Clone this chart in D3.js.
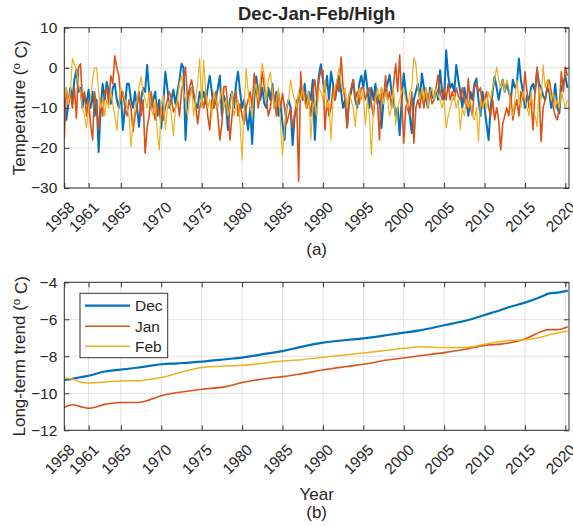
<!DOCTYPE html>
<html>
<head>
<meta charset="utf-8">
<script src="https://cdn.jsdelivr.net/npm/d3@7"></script>
<style>
  body { margin: 0; background: #fff; }
  svg text { font-family: "Liberation Sans", Arial, Helvetica, sans-serif; fill: #262626; }
</style>
</head>
<body>
<svg id="chart" width="573" height="526"></svg>
<script>
// ---- data ----
const yearTicks = [1958, 1961, 1965, 1970, 1975, 1980, 1985, 1990, 1995, 2000, 2005, 2010, 2015, 2020];
const tempTicks = [10, 0, -10, -20, -30];
const trendTicks = [-4, -6, -8, -10, -12];
const seriesNames = ["Dec", "Jan", "Feb"];
const seriesColors = ["#0072BD", "#D95319", "#EDB120"];

// high temperatures, four samples per year starting at 1958.0
const startYear = 1958;
const stepYear = 0.25;

const decHigh = [
  -8, -13, -9, -5,
  -8, -3, -0.5, -6,
  -5, -10, -7, -9,
  -5.5, -10, -6, -12,
  -8, -21, -10, -4,
  -8, -3.5, -6, -9,
  -5, -4, -8, -10,
  -6, -15.5, -10, -4,
  -4, -8, -10, -6,
  -10, -14.7, -8, -5,
  -6, 0.7, -6, -10,
  -8, -6, -12, -8,
  -15, -9, -1, -5,
  -10, -8, -5.5, -9,
  -6, -3, 1, 0,
  -18, -8, -6, -5,
  -7, -9, -10, -6,
  -8, -6, -9, -5,
  -2, -6, -10, -8,
  -5, -2, -12, -7,
  -9, -15.5, -8, -6,
  -10, -4, -1, -6,
  -10, -8, -12, -15.5,
  -10, -19, -8, -2.2,
  -6, -8, -5, -9,
  -10, -5, -8, -4,
  -10, -6, -12, -9,
  -14, -18, -10, -8,
  -10, -19.3, -12, -10,
  -7, -5, -8, -4,
  -10, -6, -8, -3,
  -18, -8, -2, 0.9,
  -3, -6, -2, -8,
  -1, -4, -8, -5,
  -2, -6, -10, -8,
  -14.7, -8, -6, -3,
  -8, -10, -4, -2,
  -5, -0.7, -5, -10,
  -5, -8, -4, -9,
  -6.8, -15, -8, -6,
  -4, -1.8, -6, -8,
  -12, -10, -16.8, -8,
  -1.4, -6, -10, -12,
  -16.3, -8, -6, -4,
  -8, -1.4, -5, -8,
  -10, -5, -7, -8,
  -5, -8, -0.6, -6,
  -8, 4.4, -2, -5,
  -4, -6, 0.7, -3,
  -6, -10, -5, -8,
  -12, -6, -8, -4,
  -2.7, -8, -12, -6,
  -10, -14, -18, -10,
  -6, -2.2, -5, -8,
  -5, -3, -6, -4,
  -6, -8, -3, -5,
  -4, 2.3, -3, -6,
  -10, -7, -8, -5,
  -4, -6, -0.6, -4,
  -5, -7, -8, -5,
  -6, -10, -8, -4,
  -10, -11.4, -5, -4,
  -2, -5
];

const janHigh = [
  -17.6, -5, -9, -6,
  -10, -5, -12.6, 0,
  1, -8, -6, -12,
  -8, -14, -18, -6,
  -10, -15.5, -8, -12,
  -6, -5, -9, -2,
  -4, 3, 0, -2,
  -8, -6, -10, -12,
  -8, -10, -16, -12,
  -10, -6, -12, -8,
  -21.3, -15, -12, -6,
  -10, -13, -9, -12,
  -10, -13, -10, -8,
  -6, -7.6, -11, -10,
  -8, -12, -6, -3,
  0.2, -8, -5, -3,
  -6, -9, -14, -10,
  -8, -10, -6, -12,
  -15.5, -8, -10, -6,
  -12, -18, -14, -4.7,
  -4.7, -10, -18, -12,
  -8, -6, -12, -9,
  -12, -14, -10, -8,
  -6, -10, -1.4, -5,
  -10, -6, -1, -5,
  -8, -12, -10, -5,
  -8, -12, -6, -10,
  -6.4, -10, -14, -12,
  -10, -15, -12, -8,
  -28.4, -1, -8, -6,
  -10, -8, -12, -6,
  -3, -8, -3, -0.6,
  -0.6, -15.5, -8, -12,
  -10, -5, -8, -3,
  -6, 2.7, -5, -8,
  -15, -7, -5, -3,
  -8, -6, -9, -5,
  -5, -8, -6, -5,
  -9, -12, -6, -8,
  -18, -5, -8, -2,
  -8, -6, -10, -4,
  1, -6, 3.2, -8,
  -18.8, -10, -8, -12,
  -6, -18.8, -10, -8,
  -10, -6, -10, -5,
  -8, -6, -9, -8,
  -5, -1.8, -6, -8,
  -5, -8, -3.9, -8,
  -6, -8, -5, -7,
  -8, -5, -8, -10,
  -2.7, -10, -12, -5,
  -3.9, -6, -5, -10,
  -8, -6, -10, -12,
  -8, -13, -10, -13,
  -20.5, -14, -12, -10,
  -12, -6.8, -13, -10,
  -8, -12, -6, -8,
  -1, -6, -10, -8,
  -15.5, -6, 0.2, -6,
  -18.4, -10, -8, -5,
  -3, -6, -10, -12,
  -13, -10, -1, -6,
  0.2, -2
];

const febHigh = [
  -8, -5, -9, -6,
  2.3, 1, -1, -4,
  -6, -10, -12, -15,
  -10, -8, -3, 0,
  0, -6, -10, -8,
  -12, -8, -10, -6,
  -9, -12, -15.5, -10,
  -5, -6, -8, -10,
  -12, -19.7, -14, -10,
  -8, -5, -2.2, -6,
  -8, -10, -6, -10,
  -12, -8, -16, -20.5,
  -9, -7, -15.5, -10,
  -8, -12, -17, -10,
  -8, -4, -2, -6,
  -8, -12, -8, -5,
  -12, -8, -4, 2.3,
  -10, 1.9, -6, -10,
  -8, -12, -6, -8,
  -10, -8, -5, -10,
  -8, -12, -10, -6,
  -12, -10, -8, -14,
  -23, -10, -0.2, -6,
  -10, -12, -6, -4,
  -8, -3, 1.1, -2,
  -8, -3, -1, -6,
  -10, -8, -5, -14,
  -22, -15, -10, -8,
  -3, -6, -8, -10,
  -6, -8, -5, -9,
  -10, -6, -18, -10,
  -8, -12, -5, -6,
  -8, -3, -10, -8,
  -18, -8, -5, -3,
  0, -4, -6, -5,
  -10, -6, -8, -10,
  -14.7, -8, -5, -8,
  -6, -14.3, -8, -12,
  -21.7, -10, -8, -5,
  -8, -5, -9, -6,
  -8, -12, -10, -5,
  -14.3, -10, -8, -6,
  -5, -8, -10, -6,
  -5, 2.6, 1, -5,
  -8, -5, -8, -5,
  -10, -6, -5, -8,
  -5, -7, -8, -10,
  -8, -15, -12, -10,
  -8, -7, -10, -8,
  -15.5, -10, -12, -8,
  -10, -8, -12, -13,
  -10, -18.4, -8, -10,
  -8, -10, -6, -8,
  -5, -3, 0.2, -3,
  -5, -3, -6, -3,
  -5, -10, -12, -8,
  -3, -8, -10, -6,
  -8, -10, -12, -6,
  -10, -12, -14.7, -5,
  -8, 0.7, -5, -3,
  -5, -8, -6, -10,
  -8, -10, -6, -8,
  -10, -8
];

// long-term trend components
const trendYears = [1958, 1959, 1960, 1961, 1963, 1965, 1967, 1968, 1970, 1972, 1975, 1978, 1980, 1983, 1985, 1987,
                    1990, 1993, 1995, 1998, 2000, 2002, 2005, 2008, 2010, 2012, 2013, 2015, 2017, 2018, 2019, 2020.3];
const decTrend = [-9.28, -9.22, -9.13, -9.05, -8.82, -8.72, -8.62, -8.56, -8.43, -8.38, -8.29, -8.16, -8.07, -7.86, -7.72, -7.52,
                  -7.26, -7.12, -7.03, -6.85, -6.72, -6.6, -6.32, -6.04, -5.77, -5.5, -5.35, -5.1, -4.78, -4.6, -4.56, -4.45];
const janTrend = [-10.77, -10.62, -10.72, -10.81, -10.6, -10.5, -10.5, -10.43, -10.13, -9.96, -9.78, -9.64, -9.42, -9.2, -9.1, -8.97,
                  -8.74, -8.55, -8.43, -8.2, -8.09, -7.97, -7.8, -7.59, -7.41, -7.34, -7.28, -7.06, -6.67, -6.56, -6.56, -6.4];
const febTrend = [-9.19, -9.23, -9.39, -9.44, -9.4, -9.33, -9.32, -9.28, -9.15, -8.92, -8.6, -8.52, -8.49, -8.36, -8.25, -8.2,
                  -8.05, -7.92, -7.82, -7.67, -7.57, -7.48, -7.53, -7.51, -7.35, -7.2, -7.15, -7.1, -6.97, -6.83, -6.74, -6.63];

// ---- layout ----
const svg = d3.select("#chart");
const plotLeft = 64.3, plotRight = 569;
const panelA = { top: 27.7, bottom: 188 };
const panelB = { top: 282.3, bottom: 430.3 };
const gridColor = "#e2e2e2";
const axisColor = "#333333";
const tickFont = 15.5;

const x = d3.scaleLinear().domain([1958, 2020.45]).range([plotLeft, plotRight]);
const yA = d3.scaleLinear().domain([-30, 10]).range([panelA.bottom, panelA.top]);
const yB = d3.scaleLinear().domain([-12, -4]).range([panelB.bottom, panelB.top]);

function drawGrid(panel, y, yTickVals) {
  const g = svg.append("g");
  g.append("g").selectAll("line").data(yearTicks).join("line")
    .attr("x1", d => x(d)).attr("x2", d => x(d))
    .attr("y1", panel.top).attr("y2", panel.bottom)
    .attr("stroke", gridColor).attr("stroke-width", 1);
  g.append("g").selectAll("line").data(yTickVals).join("line")
    .attr("x1", plotLeft).attr("x2", plotRight)
    .attr("y1", d => y(d)).attr("y2", d => y(d))
    .attr("stroke", gridColor).attr("stroke-width", 1);
  return g;
}

function drawAxes(panel, y, yTickVals, yLabel, yLabelCenter) {
  const g = svg.append("g");
  const fmt = d3.format("d");

  const bottom = g.append("g").attr("transform", `translate(0,${panel.bottom})`)
    .call(d3.axisBottom(x).tickValues(yearTicks).tickFormat(fmt).tickSize(-5).tickSizeOuter(0));
  bottom.selectAll("text")
    .attr("x", 0).attr("y", 0).attr("dy", null)
    .attr("transform", "translate(10.8,20.5) rotate(-45)")
    .style("text-anchor", "end");

  g.append("g").attr("transform", `translate(0,${panel.top})`)
    .call(d3.axisTop(x).tickValues(yearTicks).tickFormat("").tickSize(-5).tickSizeOuter(0));

  g.append("g").attr("transform", `translate(${plotLeft},0)`)
    .call(d3.axisLeft(y).tickValues(yTickVals).tickFormat(fmt).tickSize(-5).tickSizeOuter(0).tickPadding(7));

  g.append("g").attr("transform", `translate(${plotRight},0)`)
    .call(d3.axisRight(y).tickValues(yTickVals).tickFormat("").tickSize(-5).tickSizeOuter(0));

  g.selectAll(".domain").remove();
  g.selectAll(".tick line").attr("stroke", axisColor);
  g.selectAll(".tick text").attr("font-size", tickFont).attr("fill", "#262626")
    .attr("font-family", "Liberation Sans, Arial, sans-serif");

  g.append("rect")
    .attr("x", plotLeft).attr("y", panel.top)
    .attr("width", plotRight - plotLeft).attr("height", panel.bottom - panel.top)
    .attr("fill", "none").attr("stroke", axisColor).attr("stroke-width", 1);

  // y label with superscript degree mark
  const lab = g.append("text")
    .attr("transform", `translate(25,${yLabelCenter}) rotate(-90)`)
    .attr("text-anchor", "middle").attr("font-size", 17);
  lab.append("tspan").text(yLabel + " (");
  lab.append("tspan").attr("dy", "-0.45em").attr("font-size", 11.5).text("o");
  lab.append("tspan").attr("dy", "0.45em").text(" C)");
}

// ---- panel (a): high temperatures ----
drawGrid(panelA, yA, tempTicks);
svg.append("clipPath").attr("id", "clipA").append("rect")
  .attr("x", plotLeft).attr("y", panelA.top)
  .attr("width", plotRight - plotLeft).attr("height", panelA.bottom - panelA.top);

const highSeries = [decHigh, janHigh, febHigh];
const highWidths = [2, 1.6, 1.2];
const lineA = d3.line()
  .x((d, i) => x(startYear + i * stepYear))
  .y(d => yA(d));
const gA = svg.append("g").attr("clip-path", "url(#clipA)");
highSeries.forEach((s, k) => {
  gA.append("path").datum(s)
    .attr("d", lineA)
    .attr("fill", "none")
    .attr("stroke", seriesColors[k])
    .attr("stroke-width", highWidths[k])
    .attr("stroke-linejoin", "round");
});
drawAxes(panelA, yA, tempTicks, "Temperature", (panelA.top + panelA.bottom) / 2);

svg.append("text").attr("x", (plotLeft + plotRight) / 2).attr("y", 20)
  .attr("text-anchor", "middle").attr("font-size", 18.5).attr("font-weight", "bold")
  .attr("fill", "#000").text("Dec-Jan-Feb/High");
svg.append("text").attr("x", (plotLeft + plotRight) / 2).attr("y", 254.8)
  .attr("text-anchor", "middle").attr("font-size", 17).text("(a)");

// ---- panel (b): long-term trends ----
drawGrid(panelB, yB, trendTicks);
const trendSeries = [decTrend, janTrend, febTrend];
const trendWidths = [2.2, 1.6, 1.5];
const lineB = d3.line()
  .x((d, i) => x(trendYears[i]))
  .y(d => yB(d))
  .curve(d3.curveMonotoneX);
trendSeries.forEach((s, k) => {
  svg.append("path").datum(s)
    .attr("d", lineB)
    .attr("fill", "none")
    .attr("stroke", seriesColors[k])
    .attr("stroke-width", trendWidths[k]);
});
drawAxes(panelB, yB, trendTicks, "Long-term trend", (panelB.top + panelB.bottom) / 2);

svg.append("text").attr("x", (plotLeft + plotRight) / 2).attr("y", 500)
  .attr("text-anchor", "middle").attr("font-size", 17).text("Year");
svg.append("text").attr("x", (plotLeft + plotRight) / 2).attr("y", 518)
  .attr("text-anchor", "middle").attr("font-size", 17).text("(b)");

// legend
const legend = svg.append("g");
legend.append("rect")
  .attr("x", 80).attr("y", 293.3).attr("width", 87.7).attr("height", 64.4)
  .attr("fill", "#fff").attr("stroke", axisColor).attr("stroke-width", 1);
const rowY = [305.7, 326.3, 346.3];
seriesNames.forEach((name, k) => {
  legend.append("line")
    .attr("x1", 85).attr("x2", 130).attr("y1", rowY[k]).attr("y2", rowY[k])
    .attr("stroke", seriesColors[k]).attr("stroke-width", trendWidths[k]);
  legend.append("text")
    .attr("x", 135).attr("y", rowY[k]).attr("dy", "0.36em")
    .attr("font-size", 15.5).text(name);
});
</script>
</body>
</html>
